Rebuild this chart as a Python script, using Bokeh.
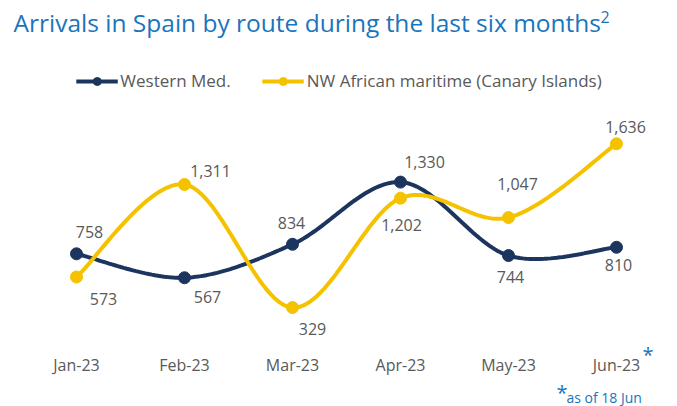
import numpy as np
from bokeh.plotting import figure
from bokeh.layouts import column
from bokeh.models import (ColumnDataSource, Range1d, FixedTicker, Label, Legend, LegendItem)
from bokeh.core.properties import value
from bokeh.embed import file_html
from bokeh.resources import INLINE

# ---- data ----
months = ["Jan-23", "Feb-23", "Mar-23", "Apr-23", "May-23", "Jun-23"]
western_med = [758, 567, 834, 1330, 744, 810]
nw_african = [573, 1311, 329, 1202, 1047, 1636]
series_names = ["Western Med.", "NW African maritime (Canary Islands)"]
title_text = "Arrivals in Spain by route during the last six months"
footnote_text = "as of 18 Jun"

# label offsets (screen px) for value labels
west_dx = [13, 23, -1, 24, 2, 2]
west_dy = [-22, 19, -21, -20, 21, 18]
nw_dx = [27, 26, 20, 1, 9, 9]
nw_dy = [22, -13, 21, 27, -34, -17]

NAVY = "#1c355e"
YELLOW = "#f5c200"
BLUE = "#1a75bc"
GREY = "#595959"
FONT = "Open Sans"

W = 677
MAIN_H = 378
BOTTOM = 19
FRAME_H = MAIN_H - BOTTOM
FOOT_H = 28
SHIFT = 9  # empirical correction for alphabetic-baseline labels


def catmull_rom(xs, ys, n=40):
    P = np.column_stack([np.asarray(xs, float), np.asarray(ys, float)])
    k = len(P)
    T = np.empty_like(P)
    T[1:-1] = (P[2:] - P[:-2]) / 2.0
    T[0] = (P[1] - P[0]) / 2.0
    T[-1] = (P[-1] - P[-2]) / 2.0
    out = []
    t = np.linspace(0, 1, n, endpoint=False)
    h00 = 2 * t**3 - 3 * t**2 + 1
    h10 = t**3 - 2 * t**2 + t
    h01 = -2 * t**3 + 3 * t**2
    h11 = t**3 - t**2
    for i in range(k - 1):
        seg = (h00[:, None] * P[i] + h10[:, None] * T[i]
               + h01[:, None] * P[i + 1] + h11[:, None] * T[i + 1])
        out.append(seg)
    out.append(P[-1:])
    arr = np.vstack(out)
    return arr[:, 0], arr[:, 1]


x_idx = list(range(len(months)))

p = figure(width=W, height=MAIN_H, output_backend="svg", toolbar_location=None,
           x_range=Range1d(-0.7037, 5.5648), y_range=Range1d(-77.2, 2778.8),
           y_axis_location=None, min_border_left=0, min_border_right=0,
           min_border_top=0, min_border_bottom=BOTTOM)
p.outline_line_color = None
p.xgrid.visible = False
p.ygrid.visible = False
p.background_fill_color = "white"
p.border_fill_color = "white"

renderers = []
for vals, color in [(western_med, NAVY), (nw_african, YELLOW)]:
    sx, sy = catmull_rom(x_idx, vals)
    lr = p.line(sx, sy, line_color=color, line_width=4)
    sr = p.scatter(x_idx, vals, size=12, fill_color=color, line_color=color)
    renderers.append((lr, sr))


def fmt(v):
    return f"{v:,}"


for vals, dx, dy in [(western_med, west_dx, west_dy), (nw_african, nw_dx, nw_dy)]:
    src = ColumnDataSource(dict(x=x_idx, y=vals, t=[fmt(v) for v in vals], dx=dx, dy=dy))
    p.text(x="x", y="y", text="t", x_offset="dx", y_offset="dy", source=src,
           text_align="center", text_baseline="middle", text_color=GREY,
           text_font=value(FONT), text_font_size="16px")

legend = Legend(items=[LegendItem(label=series_names[0], renderers=list(renderers[0])),
                       LegendItem(label=series_names[1], renderers=list(renderers[1]))],
                orientation="horizontal", location="top_center", margin=69,
                padding=0, spacing=31, glyph_width=42, glyph_height=20,
                label_height=20, label_standoff=3, border_line_color=None,
                background_fill_alpha=0, label_text_font=FONT,
                label_text_font_size="17px", label_text_color=GREY,
                label_text_baseline="middle")
p.add_layout(legend, "center")

p.xaxis.ticker = FixedTicker(ticks=x_idx)
p.xaxis.major_label_overrides = {i: m for i, m in enumerate(months)}
p.xaxis.axis_line_color = None
p.xaxis.major_tick_line_color = None
p.xaxis.minor_tick_line_color = None
p.xaxis.major_tick_out = 0
p.xaxis.major_tick_in = 0
p.xaxis.major_label_standoff = -5
p.xaxis.major_label_text_font = FONT
p.xaxis.major_label_text_font_size = "16px"
p.xaxis.major_label_text_color = GREY

# title with superscript
p.add_layout(Label(x=13, y=FRAME_H - 32 + SHIFT, x_units="screen", y_units="screen",
                   text=title_text, text_font=FONT, text_font_size="24.5px",
                   text_color=BLUE, text_baseline="alphabetic", text_align="left"))
p.add_layout(Label(x=600, y=FRAME_H - 26 + SHIFT, x_units="screen", y_units="screen",
                   text="2", text_font=FONT, text_font_size="16px", text_color=BLUE,
                   text_baseline="alphabetic", text_align="left"))
# asterisk after Jun-23
p.add_layout(Label(x=642, y=FRAME_H - 364 + SHIFT, x_units="screen", y_units="screen",
                   text="*", text_font=FONT, text_font_size="20px", text_color=BLUE,
                   text_baseline="alphabetic", text_align="left"))

# footnote strip
foot = figure(width=W, height=FOOT_H, output_backend="svg", toolbar_location=None,
              x_range=Range1d(0, W), y_range=Range1d(0, FOOT_H),
              x_axis_location=None, y_axis_location=None,
              min_border_left=0, min_border_right=0, min_border_top=0, min_border_bottom=0)
foot.outline_line_color = None
foot.xgrid.visible = False
foot.ygrid.visible = False
foot.add_layout(Label(x=556, y=FOOT_H, x_units="screen", y_units="screen",
                      text="*", text_font=FONT, text_font_size="20px", text_color=BLUE,
                      text_baseline="top", text_align="left"))
foot.add_layout(Label(x=566, y=9, x_units="screen", y_units="screen",
                      text=footnote_text, text_font=FONT, text_font_size="14px",
                      text_color=BLUE, text_baseline="alphabetic", text_align="left"))

layout = column(p, foot, spacing=0)
open("out.html", "w").write(file_html(layout, INLINE))
